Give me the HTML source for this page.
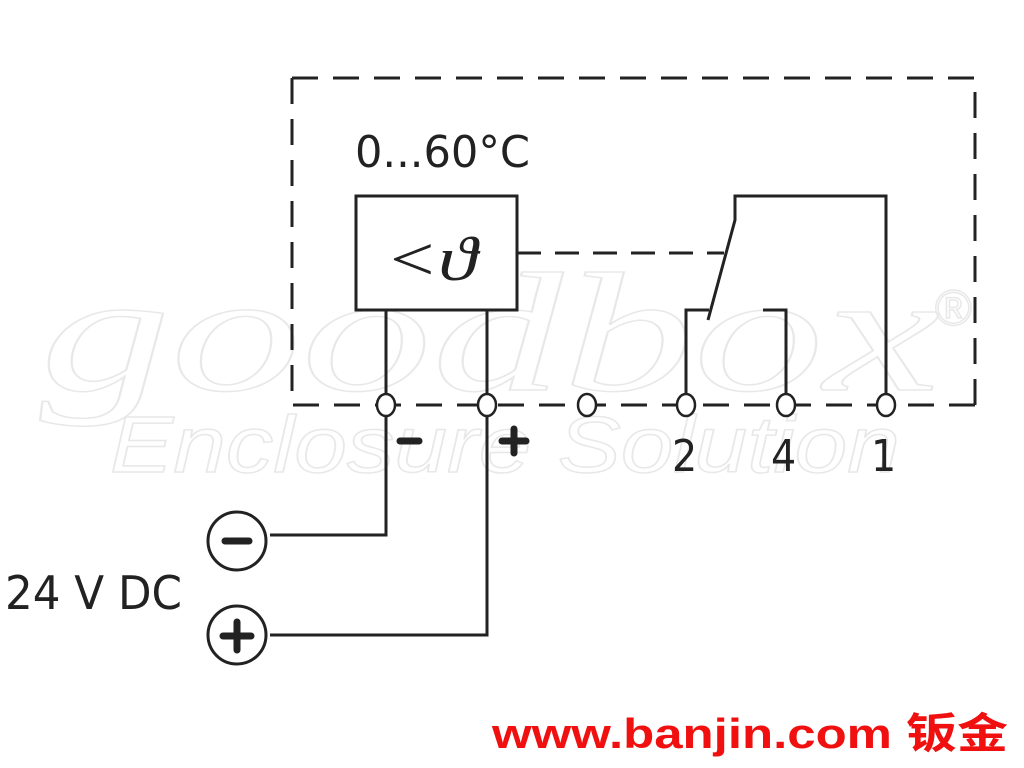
<!DOCTYPE html>
<html><head><meta charset="utf-8"><style>
html,body{margin:0;padding:0;background:#fff;}
svg{display:block;}
</style></head><body>
<svg width="1024" height="768" viewBox="0 0 1024 768" xmlns="http://www.w3.org/2000/svg">
<g font-family="Liberation Sans, sans-serif" fill="none" stroke="#e8e8e8" stroke-width="1.5">
<text x="40" y="390" font-size="170" font-style="italic" font-family="Liberation Serif, serif" textLength="900" lengthAdjust="spacingAndGlyphs">goodbox</text>
<text x="110" y="472" font-size="80" font-style="italic" textLength="790" lengthAdjust="spacingAndGlyphs">Enclosure Solution</text>
<text x="935" y="325" font-size="50">®</text>
</g>
<g stroke="#222" stroke-width="3" fill="none">
<path d="M292 78 H975 V405 M292 78 V405 H975" stroke-dasharray="26 15"/>
<rect x="356" y="196" width="161" height="114" fill="#fff"/>
<line x1="517" y1="253" x2="724" y2="253" stroke-dasharray="24 14"/>
<path d="M386 310 V535 H270"/>
<path d="M487 310 V635 H270"/>
<path d="M886 405 V196 H735 V220 L708 320"/>
<path d="M686 405 V310 H709"/>
<path d="M786 405 V310 H763"/>
<circle cx="237" cy="541" r="29"/>
<circle cx="237" cy="635" r="29"/>
</g>
<g stroke="#222" stroke-width="2.5" fill="#fff">
<ellipse cx="386" cy="405" rx="9" ry="11"/>
<ellipse cx="487" cy="405" rx="9" ry="11"/>
<ellipse cx="587" cy="405" rx="9" ry="11"/>
<ellipse cx="686" cy="405" rx="9" ry="11"/>
<ellipse cx="786" cy="405" rx="9" ry="11"/>
<ellipse cx="886" cy="405" rx="9" ry="11"/>
</g>
<g stroke="#222" stroke-width="7" stroke-linecap="round">
<line x1="225" y1="541" x2="249" y2="541"/>
<line x1="223" y1="636" x2="251" y2="636"/><line x1="237" y1="622" x2="237" y2="650"/>
<line x1="400" y1="441" x2="419" y2="441"/>
<line x1="502" y1="441" x2="526" y2="441"/><line x1="514" y1="429" x2="514" y2="453"/>
</g>
<g font-family="DejaVu Sans Condensed, Liberation Sans, sans-serif" fill="#222">
<text x="355" y="167" font-size="44" textLength="175" lengthAdjust="spacingAndGlyphs">0...60°C</text>
<text x="672" y="471" font-size="44">2</text>
<text x="771" y="471" font-size="44">4</text>
<text x="871" y="471" font-size="44">1</text>
<text x="5" y="609" font-size="46" textLength="177" lengthAdjust="spacingAndGlyphs">24 V DC</text>
<text x="385" y="280" font-size="62" font-family="Liberation Serif, serif" font-style="italic" textLength="92" lengthAdjust="spacingAndGlyphs">&lt;ϑ</text>
</g>
<text x="492" y="748" font-size="42" font-weight="bold" fill="#f01010" font-family="Liberation Sans, Noto Sans CJK SC, sans-serif" textLength="516" lengthAdjust="spacingAndGlyphs">www.banjin.com 钣金</text>
</svg>
</body></html>
